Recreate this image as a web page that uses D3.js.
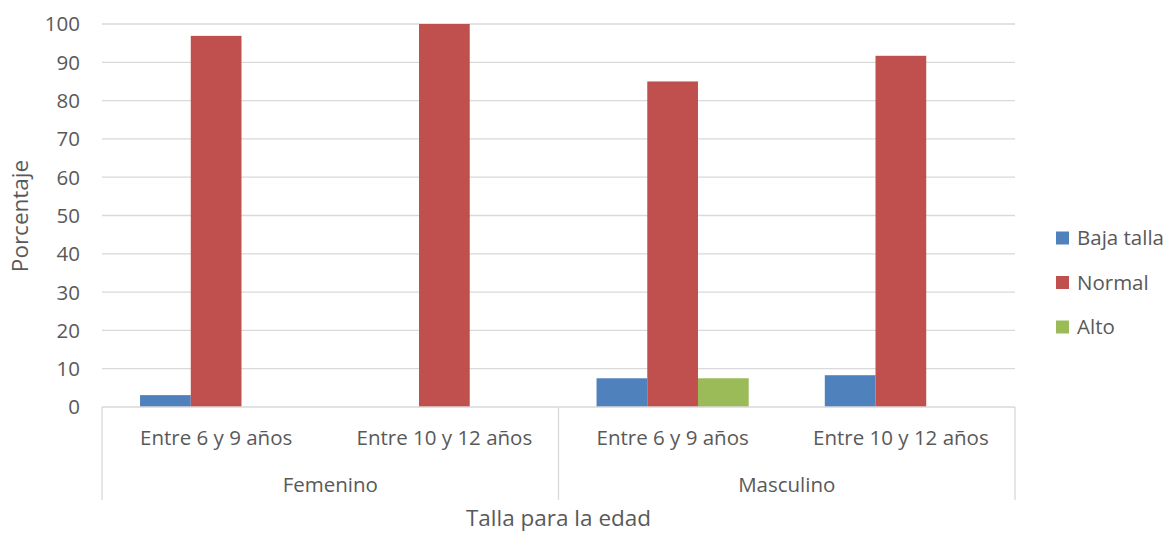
<!DOCTYPE html>
<html>
<head>
<meta charset="utf-8">
<script src="https://cdn.jsdelivr.net/npm/d3@7"></script>
<style>
  html, body { margin: 0; padding: 0; background: #fff; }
  svg text { font-family: "Open Sans", sans-serif; fill: #595959; }
</style>
</head>
<body>
<svg id="chart" width="1167" height="533"></svg>
<script>
// Talla para la edad por sexo y grupo de edad (porcentaje)
const groups = ["Femenino", "Masculino"];
const ageGroups = ["Entre 6 y 9 años", "Entre 10 y 12 años"];
const seriesNames = ["Baja talla", "Normal", "Alto"];
const seriesColors = ["#4f81bd", "#c0504d", "#9bbb59"];
const bajaTalla = [3.1, 0, 7.5, 8.3];
const normal = [96.9, 100, 85, 91.7];
const alto = [0, 0, 7.5, 0];
const yTicks = [0, 10, 20, 30, 40, 50, 60, 70, 80, 90, 100];

const seriesValues = [bajaTalla, normal, alto];
const categories = [];
groups.forEach(g => ageGroups.forEach(a => categories.push({ group: g, age: a, key: g + "|" + a })));

const svg = d3.select("#chart");
const margin = { left: 102, right: 1015, top: 24, bottom: 407 };
const labelSize = "20.5px";
const titleSize = "22.5px";

const x0 = d3.scaleBand()
  .domain(categories.map(c => c.key))
  .range([margin.left, margin.right])
  .paddingInner(0)
  .paddingOuter(0);

// gap between clusters is 150% of a bar's width
const x1 = d3.scaleBand()
  .domain(seriesNames)
  .range([0, x0.bandwidth()])
  .paddingInner(0)
  .paddingOuter(0.75);

const y = d3.scaleLinear().domain([0, 100]).range([margin.bottom, margin.top]);

// horizontal gridlines
svg.append("g")
  .selectAll("line")
  .data(yTicks.filter(t => t > 0))
  .join("line")
  .attr("x1", margin.left).attr("x2", margin.right)
  .attr("y1", d => y(d)).attr("y2", d => y(d))
  .attr("stroke", "#d9d9d9").attr("stroke-width", 1.3);

// y axis labels
const yAxis = d3.axisLeft(y).tickValues(yTicks).tickSize(0).tickPadding(0);
const yg = svg.append("g").attr("transform", `translate(80,0)`).call(yAxis);
yg.select(".domain").remove();
yg.selectAll("text").style("font-size", labelSize).attr("fill", "#595959").attr("font-family", "Open Sans, sans-serif").attr("dy", "0.34em");

// bars
categories.forEach((c, ci) => {
  seriesNames.forEach((s, si) => {
    const v = seriesValues[si][ci];
    if (v <= 0) return;
    svg.append("rect")
      .attr("x", x0(c.key) + x1(s))
      .attr("y", y(v))
      .attr("width", x1.bandwidth())
      .attr("height", y(0) - y(v))
      .attr("fill", seriesColors[si]);
  });
});

// category axis: baseline and group separators
svg.append("line")
  .attr("x1", margin.left).attr("x2", margin.right)
  .attr("y1", y(0)).attr("y2", y(0))
  .attr("stroke", "#d9d9d9").attr("stroke-width", 1.3);

const groupBounds = groups.map(g => {
  const keys = categories.filter(c => c.group === g).map(c => c.key);
  return { group: g, x0: x0(keys[0]), x1: x0(keys[keys.length - 1]) + x0.bandwidth() };
});
const sepXs = [groupBounds[0].x0].concat(groupBounds.map(b => b.x1));
svg.append("g")
  .selectAll("line")
  .data(sepXs)
  .join("line")
  .attr("x1", d => d).attr("x2", d => d)
  .attr("y1", y(0)).attr("y2", 500)
  .attr("stroke", "#d9d9d9").attr("stroke-width", 1.3);

// age labels
svg.append("g")
  .selectAll("text")
  .data(categories)
  .join("text")
  .attr("x", d => x0(d.key) + x0.bandwidth() / 2)
  .attr("y", 445)
  .attr("text-anchor", "middle")
  .style("font-size", labelSize)
  .text(d => d.age);

// group labels
svg.append("g")
  .selectAll("text")
  .data(groupBounds)
  .join("text")
  .attr("x", d => (d.x0 + d.x1) / 2)
  .attr("y", 492)
  .attr("text-anchor", "middle")
  .style("font-size", labelSize)
  .text(d => d.group);

// axis titles
svg.append("text")
  .attr("x", (margin.left + margin.right) / 2)
  .attr("y", 526)
  .attr("text-anchor", "middle")
  .style("font-size", titleSize)
  .text("Talla para la edad");

svg.append("text")
  .attr("transform", "translate(28,216) rotate(-90)")
  .attr("text-anchor", "middle")
  .style("font-size", titleSize)
  .text("Porcentaje");

// legend
const legend = svg.append("g")
  .selectAll("g")
  .data(seriesNames)
  .join("g")
  .attr("transform", (d, i) => `translate(1056,${238 + i * 44.5})`);
legend.append("rect")
  .attr("x", 0).attr("y", -6.5)
  .attr("width", 13).attr("height", 13)
  .attr("fill", (d, i) => seriesColors[i]);
legend.append("text")
  .attr("x", 21).attr("y", 0).attr("dy", "0.35em")
  .style("font-size", labelSize)
  .text(d => d);
</script>
</body>
</html>
